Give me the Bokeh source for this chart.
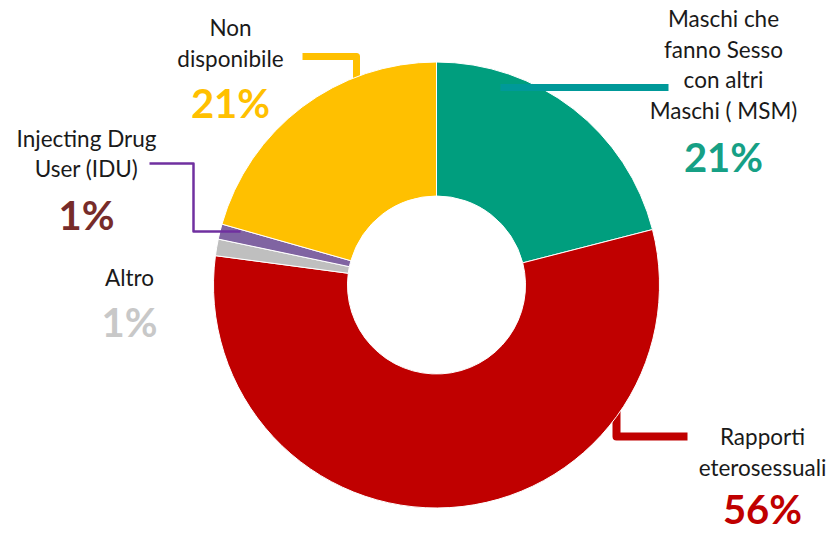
import numpy as np
import pandas as pd
from bokeh.plotting import figure
from bokeh.models import ColumnDataSource, Range1d
from bokeh.core.properties import value
from bokeh.embed import file_html
from bokeh.resources import INLINE

# ---- data ----
categories = ["Maschi che fanno Sesso con altri Maschi ( MSM)", "Rapporti eterosessuali",
              "Altro", "Injecting Drug User (IDU)", "Non disponibile"]
shares = [21.0, 56.1, 1.2, 1.1, 20.6]
slice_colors = ["#009E7E", "#C00000", "#BFBFBF", "#8064A2", "#FFC000"]
pct_colors = ["#16A085", "#C00000", "#C8C8C8", "#772C2A", "#FFC000"]
leader_colors = ["#009999", "#C00000", None, "#7030A0", "#FFC000"]
label_lines = [["Maschi che", "fanno Sesso", "con altri", "Maschi ( MSM)"],
               ["Rapporti", "eterosessuali"],
               ["Altro"],
               ["Injecting Drug", "User (IDU)"],
               ["Non", "disponibile"]]

W, H = 833, 533
def sx(X): return X
def sy(Y): return H - Y

p = figure(width=W, height=H, x_range=Range1d(0, W), y_range=Range1d(0, H),
           output_backend="svg", toolbar_location=None, min_border=0,
           x_axis_location=None, y_axis_location=None)
p.grid.visible = False
p.outline_line_color = None
p.background_fill_color = "white"

df = pd.DataFrame({"cat": categories, "share": shares, "color": slice_colors})
frac = df["share"] / df["share"].sum()
end_cum = frac.cumsum()
start_cum = end_cum - frac
df["start"] = np.pi / 2 - 2 * np.pi * start_cum
df["end"] = np.pi / 2 - 2 * np.pi * end_cum
cx, cy = sx(436), sy(284.5)
df["x"] = cx
df["y"] = cy

# leader lines (drawn first so slices cover their ends)
leaders = {
    0: ([500, 668], [87, 87], 7),
    1: ([616, 616, 687], [404, 436, 436], 8),
    3: ([149, 193, 193, 240], [163, 163, 231, 231], 2.5),
    4: ([302, 356, 356], [56, 56, 80], 7),
}
for i, (xs, ys, w) in leaders.items():
    if i in (0, 3):
        continue
    p.line([sx(v) for v in xs], [sy(v) for v in ys], line_color=leader_colors[i],
           line_width=w, line_join="round")

src = ColumnDataSource(df)
p.annular_wedge(x="x", y="y", inner_radius=89, outer_radius=223,
                start_angle="start", end_angle="end", direction="clock",
                fill_color="color", line_color="white", line_width=1, source=src)

for i in (0, 3):
    xs, ys, w = leaders[i]
    p.line([sx(v) for v in xs], [sy(v) for v in ys], line_color=leader_colors[i],
           line_width=w, line_join="round")

# label layout: (center x, first baseline, line step, pct baseline)
label_pos = {
    0: (723, 28, 30.5, 172),
    1: (762, 446, 31, 524),
    2: (129, 287, 31, 337),
    3: (86, 148, 30, 230),
    4: (230, 37, 31, 118),
}
TXT_SHIFT, PCT_SHIFT = 10, 16
for i, lines in enumerate(label_lines):
    lx, by, step, py = label_pos[i]
    for k, t in enumerate(lines):
        p.text(x=[sx(lx)], y=[sy(by + k * step - TXT_SHIFT)], text=[t], text_align="center",
               text_baseline="alphabetic", text_font=value("Lato"),
               text_font_size="22.5px", text_color="#1a1a1a")
    pct = f"{round(shares[i])}%"
    p.text(x=[sx(lx)], y=[sy(py - PCT_SHIFT)], text=[pct], text_align="center",
           text_baseline="alphabetic", text_font=value("Lato"),
           text_font_style="bold", text_font_size="40px", text_color=pct_colors[i])

open("out.html", "w").write(file_html(p, INLINE))
